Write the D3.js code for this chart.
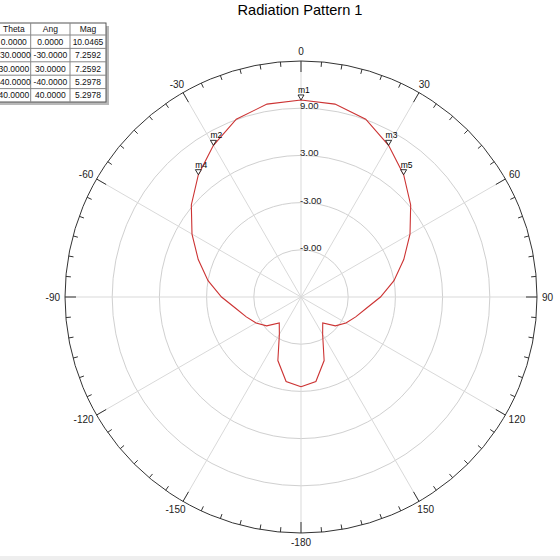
<!DOCTYPE html>
<html><head><meta charset="utf-8">
<script src="https://cdn.jsdelivr.net/npm/d3@7"></script>
<style>
body{margin:0;background:#fff;}
svg{display:block;font-family:"Liberation Sans",Arial,sans-serif;}
</style>
</head><body>
<svg id="chart" width="560" height="560"></svg>
<script>
// ---- data ----
const title = "Radiation Pattern 1";
const angles = [-180,-170,-160,-150,-140,-130,-120,-110,-100,-90,-80,-70,-60,-50,-40,-30,-20,-10,0,
                10,20,30,40,50,60,70,80,90,100,110,120,130,140,150,160,170,180];
const mags = [-3.6,-4.1,-6.4,-9.5,-10.7,-9.3,-8.4,-7.6,-6.6,-4.9,-3.0,-1.1,1.0,3.2,5.2978,7.2592,9.05,9.9,10.0465,
              9.9,9.05,7.2592,5.2978,3.2,1.0,-1.1,-3.0,-4.9,-6.6,-7.6,-8.4,-9.3,-10.7,-9.5,-6.4,-4.1,-3.6];
const ringValues = [-9,-3,3,9];
const radialDomain = [-15,15];
const angleTicks = [0,30,60,90,120,150,-180,-150,-120,-90,-60,-30];
const markerNames = ["m1","m2","m3","m4","m5"];
const markerAngles = [0,-30,30,-40,40];
const markerMags = [10.0465,7.2592,7.2592,5.2978,5.2978];
const tableHeaders = ["Theta","Ang","Mag"];

// ---- layout ----
const svg = d3.select("#chart");
const cx = 301, cy = 297, R = 236;
const rad = d => d*Math.PI/180;
const r = d3.scaleLinear().domain(radialDomain).range([0,R]);
const px = (deg, rr) => cx + rr*Math.sin(rad(deg));
const py = (deg, rr) => cy - rr*Math.cos(rad(deg));
const hy = s => s.replace(/\u2212/g,"-");

svg.append("rect").attr("width",560).attr("height",560).attr("fill","#fff");
svg.append("rect").attr("x",0).attr("y",556).attr("width",560).attr("height",4).attr("fill","#eeeeee");

// title
svg.append("text").attr("x",300).attr("y",15).attr("text-anchor","middle")
  .attr("font-size",14.6).attr("fill","#000").text(title);

const g = svg.append("g");

// rings
g.selectAll("circle.ring").data(ringValues).join("circle")
  .attr("cx",cx).attr("cy",cy).attr("r",d=>r(d))
  .attr("fill","none").attr("stroke","#d0d0d0").attr("stroke-width",1);

// spokes every 30
const spokeAngles = d3.range(0,360,30);
g.selectAll("line.spoke").data(spokeAngles).join("line")
  .attr("x1",cx).attr("y1",cy)
  .attr("x2",d=>px(d,R)).attr("y2",d=>py(d,R))
  .attr("stroke","#d9d9d9").attr("stroke-width",1);

// outer circle
g.append("circle").attr("cx",cx).attr("cy",cy).attr("r",R)
  .attr("fill","none").attr("stroke","#333").attr("stroke-width",1);

// ticks every 5
const tickAngles = d3.range(0,360,5);
g.selectAll("line.tick").data(tickAngles).join("line")
  .attr("x1",d=>px(d,R)).attr("y1",d=>py(d,R))
  .attr("x2",d=>px(d,R-(d%30===0?11:5))).attr("y2",d=>py(d,R-(d%30===0?11:5)))
  .attr("stroke","#333").attr("stroke-width",1);

// angle labels
const lab = g.selectAll("text.ang").data(angleTicks).join("text")
  .attr("font-size",10).attr("fill","#222")
  .attr("text-anchor","middle").attr("dominant-baseline","central")
  .text(d=>String(d));
lab.each(function(d){
  const w = this.getComputedTextLength();
  const h = 9;
  const s = Math.sin(rad(d)), c = Math.cos(rad(d));
  const rr = 241;
  d3.select(this).attr("x", cx + rr*s + s*w/2).attr("y", cy - rr*c - c*h/2);
});

// ring labels
const fmt = d3.format(".2f");
g.selectAll("text.rl").data(ringValues).join("text")
  .attr("x",cx-1).attr("y",d=>cy-r(d)+1)
  .attr("font-size",9.5).attr("fill","#222")
  .text(d=>hy(fmt(d)));

// trace
const line = d3.lineRadial()
  .angle((d,i)=>rad(angles[i]))
  .radius(d=>r(d));
g.append("path").datum(mags)
  .attr("transform",`translate(${cx},${cy})`)
  .attr("d",line).attr("fill","none").attr("stroke","#cc3333").attr("stroke-width",1.1);

// markers
const mk = g.selectAll("g.mk").data(markerNames).join("g")
  .attr("transform",(d,i)=>`translate(${px(markerAngles[i],r(markerMags[i]))},${py(markerAngles[i],r(markerMags[i]))})`);
mk.append("path").attr("d","M-3,-5L3,-5L0,0Z").attr("fill","#fff").attr("stroke","#000").attr("stroke-width",0.8);
mk.append("text").attr("x",-3).attr("y",-7).attr("font-size",8.5).attr("fill","#000").text(d=>d);

// table
const f4 = v => hy(d3.format(".4f")(v));
const colX = [-9, 30.7, 70, 106];
const rowY = [23, 35, 48.4, 61.8, 75.2, 88.6, 102];
const rows = [tableHeaders].concat(markerNames.map((m,i)=>[f4(markerAngles[i]), f4(markerAngles[i]), f4(markerMags[i])]));
const tg = svg.append("g");
tg.append("rect").attr("x",colX[0]+3).attr("y",rowY[0]+3).attr("width",colX[3]-colX[0]).attr("height",rowY[6]-rowY[0])
  .attr("fill","#b8b8b8");
tg.append("rect").attr("x",colX[0]).attr("y",rowY[0]).attr("width",colX[3]-colX[0]).attr("height",rowY[6]-rowY[0])
  .attr("fill","#fff").attr("stroke","#555").attr("stroke-width",1);
rowY.slice(1,6).forEach(y=>tg.append("line").attr("x1",colX[0]).attr("x2",colX[3]).attr("y1",y).attr("y2",y).attr("stroke","#888"));
colX.slice(1,3).forEach(x=>tg.append("line").attr("x1",x).attr("x2",x).attr("y1",rowY[0]).attr("y2",rowY[6]).attr("stroke","#888"));
rows.forEach((row,ri)=>{
  row.forEach((t,ci)=>{
    tg.append("text").attr("x",(colX[ci]+colX[ci+1])/2 + (ci===0?3:0)).attr("y",(rowY[ri]+rowY[ri+1])/2)
      .attr("text-anchor","middle").attr("dominant-baseline","central")
      .attr("font-size",8.5).attr("fill","#111").text(t);
  });
});
</script>
</body></html>
